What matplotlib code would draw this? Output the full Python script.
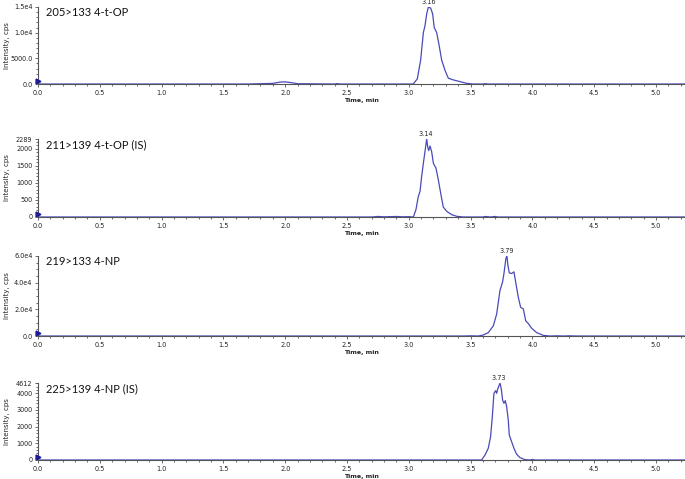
import matplotlib.pyplot as plt
from matplotlib.ticker import MultipleLocator, FixedLocator, FixedFormatter

# 205>133 4-t-OP
t1 = [0.0, 1.70, 1.80, 1.90, 1.96, 2.00, 2.04, 2.10, 2.40, 2.42, 2.44, 3.00, 3.036, 3.069,
      3.096, 3.118, 3.131, 3.145, 3.158, 3.177, 3.193, 3.206, 3.226, 3.247, 3.266,
      3.293, 3.320, 3.360, 3.414, 3.468, 3.52, 3.60, 3.62, 3.64, 5.23]
i1 = [0, 0, 60, 120, 380, 420, 300, 60, 0, 90, 0, 0, 0, 1000,
      4667, 10000, 11333, 13667, 14950, 14800, 13667, 11000, 10000, 7333, 4667,
      2667, 1133, 800, 467, 133, 0, 0, 60, 0, 0]

# 211>139 4-t-OP (IS)
t2 = [0.0, 2.70, 2.75, 2.80, 2.90, 2.95, 3.00, 3.037, 3.058, 3.077, 3.091, 3.104, 3.118,
      3.131, 3.145, 3.153, 3.161, 3.172, 3.185, 3.199, 3.220, 3.239, 3.258, 3.279,
      3.307, 3.347, 3.388, 3.441, 3.60, 3.62, 3.66, 3.70, 3.72, 5.23]
i2 = [0, 0, 15, 5, 15, 5, 10, 0, 214, 604, 750, 1188, 1578,
      1919, 2289, 2065, 1948, 2084, 1919, 1578, 1432, 1091, 701, 292,
      166, 68, 20, 0, 0, 15, 0, 15, 0, 0]

# 219>133 4-NP
t3 = [0.0, 3.45, 3.50, 3.563, 3.603, 3.643, 3.684, 3.711, 3.738, 3.759, 3.770, 3.786,
      3.794, 3.802, 3.813, 3.832, 3.851, 3.867, 3.886, 3.905, 3.927, 3.946, 3.967,
      3.994, 4.035, 4.088, 4.142, 4.20, 4.25, 4.30, 4.35, 5.23]
i3 = [0, 0, 150, 0, 760, 2532, 7600, 16460, 34180, 40500, 46840, 58240,
      60000, 53170, 47350, 46840, 48100, 39250, 29120, 21520, 20260, 11390, 9370,
      5820, 2532, 506, 0, 150, 0, 150, 0, 0]

# 225>139 4-NP (IS)
t4 = [0.0, 3.589, 3.617, 3.643, 3.662, 3.676, 3.689, 3.703, 3.711, 3.719, 3.727,
      3.738, 3.749, 3.759, 3.770, 3.781, 3.792, 3.805, 3.813, 3.832, 3.851, 3.873,
      3.900, 3.940, 3.98, 4.00, 4.02, 5.23]
i4 = [0, 0, 300, 700, 1400, 2600, 3994, 4154, 3994, 4234, 4394,
      4612, 4234, 3595, 3395, 3555, 3195, 2396, 1498, 1098, 699, 340,
      140, 20, 0, 30, 0, 0]

titles = ["205>133 4-t-OP", "211>139 4-t-OP (IS)", "219>133 4-NP", "225>139 4-NP (IS)"]
peaks = [3.16, 3.14, 3.79, 3.73]
peak_heights = [15000, 2289, 60000, 4612]
yticks = [[0, 5000, 10000, 15000], [0, 500, 1000, 1500, 2000, 2289],
          [0, 20000, 40000, 60000], [0, 1000, 2000, 3000, 4000, 4612]]
ylabels = [["0.0", "5000.0", "1.0e4", "1.5e4"], ["0", "500", "1000", "1500", "2000", "2289"],
           ["0.0", "2.0e4", "4.0e4", "6.0e4"], ["0", "1000", "2000", "3000", "4000", "4612"]]
yminor = [1000, 100, 5000, 200]
times = [t1, t2, t3, t4]
ints = [i1, i2, i3, i4]

# axes rectangles (figure fraction)
bottoms = [0.8246, 0.547, 0.2985, 0.0397]
tops = [0.9854, 0.7098, 0.4656, 0.2004]

fig = plt.figure(figsize=(6.85, 4.79), dpi=100)
line_col = "#4a4ab8"
axis_col = "#555555"

for k in range(4):
    ax = fig.add_axes([0.0555, bottoms[k], 0.9445, tops[k] - bottoms[k]])
    ax.plot(times[k], ints[k], color=line_col, lw=0.9, zorder=1)
    ax.set_xlim(0, 5.235)
    ax.set_ylim(0, peak_heights[k])
    for s in ["top", "right"]:
        ax.spines[s].set_visible(False)
    for s in ["left", "bottom"]:
        ax.spines[s].set_color(axis_col)
        ax.spines[s].set_linewidth(0.8)
        ax.spines[s].set_zorder(3)
    ax.xaxis.set_major_locator(MultipleLocator(0.5))
    ax.xaxis.set_minor_locator(MultipleLocator(0.1))
    ax.xaxis.set_major_formatter(plt.FormatStrFormatter("%.1f"))
    ax.yaxis.set_major_locator(FixedLocator(yticks[k]))
    ax.yaxis.set_major_formatter(FixedFormatter(ylabels[k]))
    ax.yaxis.set_minor_locator(MultipleLocator(yminor[k]))
    ax.tick_params(which="both", colors=axis_col, labelcolor="#222222", labelsize=4.7,
                   width=0.6, pad=1.5)
    ax.tick_params(which="major", length=2.5)
    ax.tick_params(which="minor", length=1.5)
    ax.set_xlabel("Time, min", fontsize=4.5, fontweight="bold", labelpad=2, color="#222222")
    ax.set_ylabel("Intensity, cps", fontsize=5, color="#222222")
    ax.yaxis.set_label_coords(-0.044, 0.5)
    ax.text(0.012, 0.93, titles[k], transform=ax.transAxes, fontsize=8,
            family="Lato", va="center", ha="left", color="#111111")
    ax.text(peaks[k], peak_heights[k] * 1.02, f"{peaks[k]:.2f}", fontsize=4.7,
            ha="center", va="bottom", color="#222222", clip_on=False)
    ax.plot([0.0], [peak_heights[k] * 0.04], marker=">", color="#1a1a9a", ms=3.5,
            clip_on=False, zorder=4)

fig.savefig("out.png", dpi=100)
